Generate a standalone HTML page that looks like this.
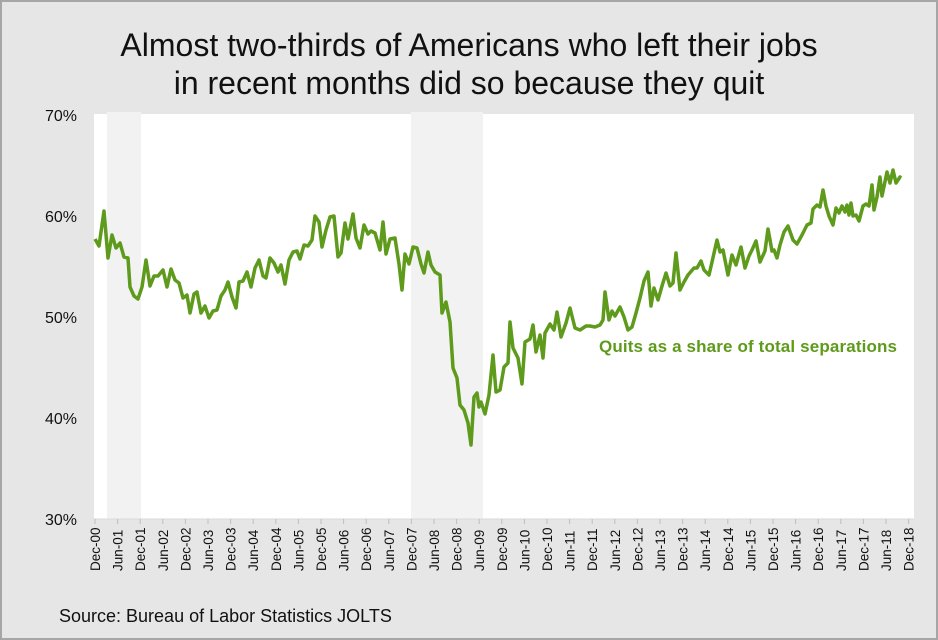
<!DOCTYPE html>
<html><head><style>
html,body{margin:0;padding:0;}
body{width:938px;height:640px;background:#e6e6e6;font-family:"Liberation Sans",sans-serif;overflow:hidden;}
.frame{position:absolute;left:0;top:0;width:934px;height:636px;border:2px solid #a6a6a6;}
</style></head><body>
<div class="frame"></div>
<svg width="938" height="640" style="position:absolute;left:0;top:0" font-family="Liberation Sans, sans-serif">
<text x="469" y="56" text-anchor="middle" font-size="32" fill="#111">Almost two-thirds of Americans who left their jobs</text>
<text x="469" y="94" text-anchor="middle" font-size="32" fill="#111">in recent months did so because they quit</text>
<rect x="94" y="114" width="820" height="405" fill="#fff"/>
<rect x="107" y="112" width="34" height="407" fill="#f2f2f2"/>
<rect x="411" y="112" width="72" height="407" fill="#f2f2f2"/>
<line x1="94" y1="519" x2="914" y2="519" fill="none" stroke="#d9d9d9" stroke-width="1"/>
<g font-size="16" fill="#111" text-anchor="end">
<text x="77" y="121">70%</text><text x="77" y="222">60%</text><text x="77" y="323">50%</text><text x="77" y="424">40%</text><text x="77" y="525">30%</text>
</g>
<g id="ticks" stroke="#bfbfbf" stroke-width="1"></g>
<g id="xl" font-size="13.5" fill="#111"></g>
<polyline fill="none" stroke="#5e9a1b" stroke-width="3.5" stroke-linejoin="round" points="95,239 99,246 104,211 108,258 112,235 116,248 120,243 124,257 128,258 130,287 134,296 138,299 142,287 146,260 150,286 154,276 158,276 163,270 167,287 171,269 175,280 179,283 183,298 187,295 190,313 194,294 197,292 201,313 205,306 209,318 213,311 217,310 221,296 225,290 228,282 232,297 236,308 239,282 243,281 247,272 251,287 255,268 259,260 263,276 266,278 270,258 274,263 278,272 281,265 285,284 289,260 293,252 297,251 300,259 304,245 308,246 312,240 315,216 319,222 322,247 326,230 330,217 334,216 338,257 341,253 345,223 348,239 353,214 356,238 360,248 364,225 368,234 371,231 375,233 380,250 383,222 386,254 390,239 395,238 399,264 402,290 405,254 409,264 413,247 417,248 421,264 424,273 428,252 431,265 435,272 440,275 442,313 446,302 450,322 453,368 457,378 460,405 464,410 468,423 471,445 474,397 477,393 479,407 481,402 485,414 489,395 493,355 496,392 500,390 504,367 508,363 510,322 513,348 518,358 522,384 525,342 530,339 533,325 536,352 540,335 543,358 545,333 550,324 554,330 557,312 561,337 566,323 570,308 575,328 580,330 586,326 590,326 595,327 600,325 603,320 605,292 609,320 612,311 615,316 620,307 624,317 628,330 632,327 636,313 640,298 644,281 648,272 651,306 654,288 658,300 662,286 666,273 670,286 673,283 676,253 680,290 684,282 688,275 694,268 697,268 701,261 704,270 709,275 712,262 717,240 720,252 723,250 728,275 732,255 736,265 741,247 745,268 749,256 752,250 756,241 760,262 765,251 768,229 772,251 774,250 777,258 780,245 784,232 788,226 793,240 797,244 802,235 807,225 811,223 813,209 817,205 820,207 823,190 826,206 829,216 833,225 836,208 839,213 842,206 845,212 847,205 849,215 851,203 853,216 856,215 859,221 863,206 866,204 869,206 872,185 874,210 877,197 880,177 882,196 887,172 890,183 893,170 896,183 900,177 901,178"/>
<text x="599" y="352" font-size="17" font-weight="bold" fill="#5e9a1b" textLength="298">Quits as a share of total separations</text>
<text x="59" y="622" font-size="18" fill="#111">Source: Bureau of Labor Statistics JOLTS</text>
</svg>
<script>
var t=document.getElementById('ticks'),xl=document.getElementById('xl'),ns='http://www.w3.org/2000/svg';
for(var i=0;i<=36;i++){var x=95+i*22.6;
var l=document.createElementNS(ns,'line');l.setAttribute('x1',x);l.setAttribute('x2',x);l.setAttribute('y1',519);l.setAttribute('y2',524);t.appendChild(l);
var yr=Math.floor(i/2)+(i%2?1:0);var lab=(i%2?'Jun-':'Dec-')+String(yr).padStart(2,'0');
var tx=document.createElementNS(ns,'text');tx.setAttribute('transform','translate('+(x+5)+',571) rotate(-90)');tx.textContent=lab;xl.appendChild(tx);}
</script>
</body></html>
